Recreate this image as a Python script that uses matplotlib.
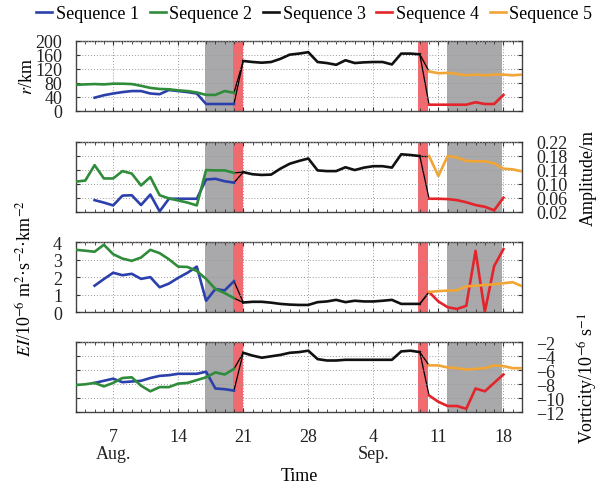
import numpy as np
import matplotlib
matplotlib.use("Agg")
from matplotlib import pyplot as plt
from matplotlib.ticker import MultipleLocator, FixedLocator

plt.rcParams["font.family"] = ["Liberation Serif", "DejaVu Serif"]
plt.rcParams["mathtext.fontset"] = "stix"
plt.rcParams["axes.unicode_minus"] = True

# day numbers counted from 1 Aug (so 4 Sep = 35)
seq1_days = np.arange(5, 21)
seq2_days = np.arange(3, 21)
seq3_days = np.arange(21, 41)
seq4_days = np.arange(41, 50)
seq5_days = np.arange(41, 52)

# radius r / km
r_seq1 = [38, 45, 50, 54, 57, 57, 50, 48, 60, 57, 54, 50, 20, 20, 20, 20]
r_seq2 = [75, 76, 77, 76, 78, 78, 77, 72, 66, 63, 62, 59, 57, 53, 46, 46, 57, 52]
r_seq3 = [143, 140, 138, 140, 149, 161, 164, 168, 140, 137, 132, 145, 137, 139, 140, 140, 133, 164, 164, 162]
r_seq4 = [18, 18, 18, 18, 18, 25, 20, 20, 46]
r_seq5 = [113, 108, 109, 106, 102, 104, 102, 104, 104, 102, 104]

# amplitude / m
amp_seq1 = [0.053, 0.046, 0.038, 0.066, 0.067, 0.039, 0.069, 0.021, 0.057, 0.057, 0.057, 0.057,
            0.112, 0.114, 0.107, 0.103]
amp_seq2 = [0.106, 0.109, 0.153, 0.115, 0.115, 0.136, 0.129, 0.095, 0.119, 0.067, 0.058, 0.052,
            0.046, 0.038, 0.139, 0.138, 0.138, 0.131]
amp_seq3 = [0.133, 0.127, 0.125, 0.126, 0.143, 0.157, 0.165, 0.172, 0.138, 0.136, 0.136, 0.147,
            0.139, 0.146, 0.150, 0.150, 0.146, 0.184, 0.182, 0.179]
amp_seq4 = [0.057, 0.057, 0.056, 0.053, 0.047, 0.039, 0.034, 0.024, 0.060]
amp_seq5 = [0.179, 0.122, 0.179, 0.175, 0.165, 0.164, 0.164, 0.158, 0.143, 0.141, 0.135]

# eddy intensity EI / 1e-6 m2 s-2 km-2
ei_seq1 = [1.52, 1.90, 2.26, 2.12, 2.20, 1.91, 2.01, 1.43, 1.64, 1.97, 2.26, 2.61, 0.66, 1.33, 1.25, 1.78]
ei_seq2 = [3.57, 3.52, 3.46, 3.86, 3.32, 3.07, 2.94, 3.13, 3.57, 3.38, 3.03, 2.61, 2.59, 2.36,
           1.91, 1.33, 1.10, 0.81]
ei_seq3 = [0.56, 0.60, 0.60, 0.55, 0.48, 0.44, 0.42, 0.42, 0.58, 0.62, 0.71, 0.58, 0.66, 0.62,
           0.62, 0.66, 0.71, 0.48, 0.48, 0.48]
ei_seq4 = [1.16, 0.62, 0.29, 0.19, 0.37, 3.51, 0.03, 2.64, 3.61]
ei_seq5 = [1.16, 1.21, 1.24, 1.26, 1.48, 1.52, 1.56, 1.60, 1.66, 1.72, 1.49]

# vorticity / 1e-6 s-1
vo_seq1 = [-7.8, -7.5, -7.2, -7.7, -7.6, -7.5, -7.1, -6.8, -6.7, -6.5, -6.5, -6.5, -6.2, -8.6, -8.7, -8.9]
vo_seq2 = [-8.1, -8.0, -7.8, -8.3, -7.8, -7.1, -7.0, -8.2, -9.0, -8.4, -8.4, -7.9, -7.8, -7.4,
           -7.0, -6.3, -6.6, -5.8]
vo_seq3 = [-3.5, -3.9, -4.2, -4.0, -3.8, -3.5, -3.4, -3.2, -4.4, -4.6, -4.6, -4.5, -4.5, -4.5,
           -4.5, -4.5, -4.5, -3.3, -3.2, -3.4]
vo_seq4 = [-9.6, -10.5, -11.1, -11.1, -11.5, -8.6, -9.0, -7.8, -6.6]
vo_seq5 = [-5.3, -5.3, -5.6, -5.7, -5.9, -5.8, -5.7, -5.3, -5.4, -5.7, -5.7]

labels = ["Sequence 1", "Sequence 2", "Sequence 3", "Sequence 4", "Sequence 5"]
colors = ["#2b40aa", "#2f8c3a", "#111111", "#e3242b", "#f0a535"]

x_ticks = [7, 14, 21, 28, 35, 42, 49]
x_ticklabels = ["7\nAug.", "14", "21", "28", "4\nSep.", "11", "18"]

gray_spans = [(16.9, 19.85), (42.9, 48.9)]
red_spans = [(19.85, 20.95), (39.8, 40.9)]

panels = [
    dict(data=[r_seq1, r_seq2, r_seq3, r_seq4, r_seq5], ylim=(0, 200), ticks=np.arange(0, 201, 40),
         ticklabels=None, side="left", ylabel=r"$r$/km", label_x=-0.09),
    dict(data=[amp_seq1, amp_seq2, amp_seq3, amp_seq4, amp_seq5], ylim=(0.02, 0.22),
         ticks=[0.02, 0.06, 0.10, 0.14, 0.18, 0.22],
         ticklabels=["0.02", "0.06", "0.10", "0.14", "0.18", "0.22"], side="right", ylabel="Amplitude/m",
         label_x=1.13),
    dict(data=[ei_seq1, ei_seq2, ei_seq3, ei_seq4, ei_seq5], ylim=(0, 4), ticks=[0, 1, 2, 3, 4],
         ticklabels=None, side="left",
         ylabel=r"$EI$/10$^{-6}$ m$^{2}$·s$^{-2}$·km$^{-2}$", label_x=-0.09),
    dict(data=[vo_seq1, vo_seq2, vo_seq3, vo_seq4, vo_seq5], ylim=(-12, -2), ticks=np.arange(-12, -1, 2),
         ticklabels=None, side="right", ylabel=r"Vorticity/10$^{-6}$ s$^{-1}$", label_x=1.12),
]

fig = plt.figure(figsize=(6.02, 4.89), dpi=100)
left, width = 76 / 602, 446 / 602
tops = [42, 142.7, 243.3, 343.3]
height_px = 70

days_list = [seq1_days, seq2_days, seq3_days, seq4_days, seq5_days]
handles = []
for i, p in enumerate(panels):
    ax = fig.add_axes([left, 1 - (tops[i] + height_px) / 489, width, height_px / 489])
    for a, b in gray_spans:
        ax.axvspan(a, b, color="#a9a9ab", lw=0, zorder=0)
    for a, b in red_spans:
        ax.axvspan(a, b, color="#f06a70", lw=0, zorder=0)

    s1, s2, s3, s4, s5 = p["data"]
    # thin connectors between sequences
    for d0, v0 in [(seq1_days[-1], s1[-1]), (seq2_days[-1], s2[-1])]:
        ax.plot([d0, seq3_days[0]], [v0, s3[0]], color="black", lw=0.9, zorder=2)
    for d1, v1 in [(seq4_days[0], s4[0]), (seq5_days[0], s5[0])]:
        ax.plot([seq3_days[-1], d1], [s3[-1], v1], color="black", lw=0.9, zorder=2)

    for days, vals, c, lab in zip(days_list, p["data"], colors, labels):
        ln, = ax.plot(days, vals, color=c, lw=1.9, label=lab, zorder=3)
        if i == 0:
            handles.append(ln)

    ax.set_xlim(3, 51)
    ax.set_ylim(*p["ylim"])
    ax.xaxis.set_major_locator(FixedLocator(x_ticks))
    ax.xaxis.set_minor_locator(MultipleLocator(1))
    ax.yaxis.set_major_locator(FixedLocator(p["ticks"]))
    ax.grid(True, which="major", ls=(0, (1, 2)), color="#999999", lw=0.7)
    ax.set_axisbelow(False)
    ax.tick_params(which="both", direction="in", top=True, right=True, left=True, bottom=True,
                   labelsize=13, colors="#333333", labelcolor="#222222")
    ax.tick_params(axis="y", pad=10)
    ax.tick_params(which="major", length=3)
    ax.tick_params(which="minor", length=2)
    for sp in ax.spines.values():
        sp.set_color("#444444")
        sp.set_linewidth(1.0)

    if p["ticklabels"] is not None:
        ax.set_yticklabels(p["ticklabels"])
    if p["side"] == "right":
        ax.tick_params(labelleft=False, labelright=True)
        ax.yaxis.set_label_position("right")
    ax.set_ylabel(p["ylabel"], fontsize=13)
    ax.yaxis.set_label_coords(p["label_x"], 0.5)

    if i == 3:
        ax.set_xticklabels(x_ticklabels, linespacing=1.0)
        ax.tick_params(axis="x", pad=11)
        ax.set_xlabel("Time", fontsize=13, labelpad=4)
    else:
        ax.tick_params(labelbottom=False)

fig.legend(handles=handles, loc="upper center", bbox_to_anchor=(0.522, 1.02), ncol=5, frameon=False,
           fontsize=13, handlelength=0.88, handletextpad=0.2, columnspacing=0.6)

fig.savefig("out.png", dpi=100)
